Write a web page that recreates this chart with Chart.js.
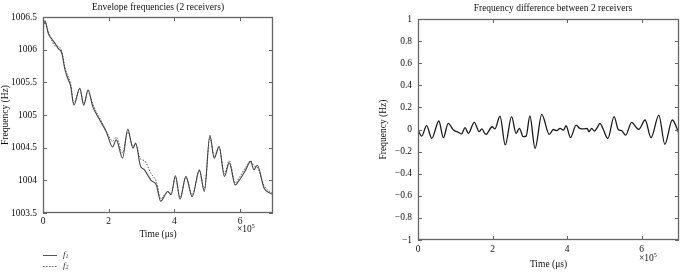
<!DOCTYPE html>
<html><head><meta charset="utf-8">
<script src="https://cdn.jsdelivr.net/npm/chart.js@4/dist/chart.umd.min.js"></script>
<style>
html,body{margin:0;padding:0;background:#fff;width:685px;height:275px;overflow:hidden;font-family:'Liberation Serif',serif;color:#111}
#c1{position:absolute;left:0;top:0}
#c2{position:absolute;left:340px;top:0}
.t{position:absolute;font-size:9.5px;line-height:11px;white-space:nowrap;color:#111}
.t sup{font-size:6px;vertical-align:4px;line-height:0}
.lg{position:absolute;left:43px;font-size:9px;line-height:11px;font-style:italic;color:#333}
.lg sub{font-size:6px;vertical-align:-1px;line-height:0}
</style></head><body>
<canvas id="c1" width="290" height="245"></canvas>
<canvas id="c2" width="345" height="275"></canvas>
<div class="t" style="left:158px;top:2px;transform:translateX(-50%)">Envelope frequencies (2 receivers)</div>
<div class="t" style="left:553px;top:3px;transform:translateX(-50%)">Frequency difference between 2 receivers</div>
<div class="t" style="left:237px;top:224px">×10<sup>5</sup></div>
<div class="t" style="left:639px;top:253px">×10<sup>5</sup></div>
<svg style="position:absolute;left:0;top:245px" width="80" height="30">
<line x1="43" y1="10.5" x2="57" y2="10.5" stroke="#555" stroke-width="1"/>
<line x1="43" y1="21.5" x2="57" y2="21.5" stroke="#555" stroke-width="1" stroke-dasharray="1.5,1.5"/>
</svg>
<div class="lg" style="left:63px;top:249px">f<sub>1</sub></div>
<div class="lg" style="left:63px;top:260px">f<sub>2</sub></div>
<script>
// Left chart: time in units of 1e5 μs
const timesL = [0.00,0.06,0.16,0.26,0.36,0.46,0.57,0.67,0.77,0.84,0.94,1.12,1.24,1.37,1.52,1.64,1.73,1.93,2.12,2.23,2.42,2.58,2.74,2.82,2.96,3.09,3.29,3.45,3.58,3.80,3.90,4.03,4.17,4.35,4.54,4.76,4.91,5.08,5.21,5.36,5.52,5.67,5.85,5.97,6.17,6.32,6.42,6.52,6.73,6.93,7.00];
const f1 = [1006.35,1006.44,1006.25,1006.17,1006.10,1006.02,1005.95,1005.69,1005.54,1005.45,1005.15,1005.41,1005.15,1005.38,1005.12,1005.00,1004.92,1004.74,1004.51,1004.62,1004.34,1004.78,1004.49,1004.57,1004.23,1004.16,1004.00,1003.93,1003.68,1003.83,1003.78,1004.07,1003.71,1004.06,1003.75,1004.16,1003.83,1004.69,1004.34,1004.52,1004.06,1004.27,1003.93,1004.00,1004.16,1004.29,1004.16,1004.23,1003.88,1003.80,1003.78];
const f2 = [1006.30,1006.42,1006.28,1006.15,1006.06,1006.05,1005.98,1005.72,1005.58,1005.48,1005.18,1005.40,1005.17,1005.36,1005.16,1005.03,1004.95,1004.75,1004.60,1004.66,1004.42,1004.74,1004.52,1004.55,1004.33,1004.30,1004.10,1003.98,1003.72,1003.82,1003.80,1004.05,1003.74,1004.04,1003.78,1004.14,1003.86,1004.66,1004.36,1004.50,1004.10,1004.30,1003.96,1004.04,1004.20,1004.30,1004.22,1004.20,1003.92,1003.82,1003.80];
// Right chart
const timesR = [0.00,0.10,0.23,0.37,0.56,0.68,0.81,0.95,1.08,1.17,1.26,1.35,1.51,1.64,1.71,1.82,1.99,2.06,2.20,2.34,2.51,2.63,2.72,2.82,2.90,3.00,3.14,3.32,3.52,3.63,3.72,3.81,3.90,3.97,4.09,4.24,4.34,4.45,4.54,4.58,4.66,4.73,4.82,4.88,4.97,5.09,5.26,5.37,5.46,5.57,5.73,5.86,5.92,6.09,6.25,6.46,6.62,6.82,7.00];
const diff = [-0.005,-0.06,0.035,-0.08,0.077,-0.074,0.056,-0.005,-0.025,-0.04,0.017,-0.035,0.065,-0.02,0.005,-0.045,0.025,0.005,0.12,-0.14,0.116,-0.035,0.01,-0.065,-0.06,0.122,-0.17,0.137,-0.045,0.0,-0.01,0.01,-0.005,0.034,-0.074,0.04,0.01,0.005,0.01,-0.02,0.01,-0.015,0.025,0.056,0.0,-0.08,0.116,0.0,-0.01,-0.05,0.065,0.016,0.0,0.086,-0.074,0.13,-0.134,0.086,-0.035];
// Ticks
const xTickVals = [0,2,4,6];
const xTickLabels = ['0','2','4','6'];
const yTickValsL = [1003.5,1004,1004.5,1005,1005.5,1006,1006.5];
const yTickLabelsL = ['1003.5','1004','1004.5','1005','1005.5','1006','1006.5'];
const yTickValsR = [-1,-0.8,-0.6,-0.4,-0.2,0,0.2,0.4,0.6,0.8,1];
const yTickLabelsR = ['\u22121','\u22120.8','\u22120.6','\u22120.4','\u22120.2','0','0.2','0.4','0.6','0.8','1'];

const FONT = {family:"'Liberation Serif', serif", size:9.5};
const framePlugin = {
  id:'frame',
  afterDatasetsDraw(chart){
    const {ctx, chartArea:a, scales:{x,y}} = chart;
    ctx.save();
    ctx.strokeStyle='#666'; ctx.lineWidth=1.3;
    ctx.strokeRect(Math.round(a.left)+0.5, Math.round(a.top)+0.5, Math.round(a.right-a.left)-1, Math.round(a.bottom-a.top)-1);
    const L=4;
    ctx.lineWidth=1;
    ctx.beginPath();
    x.ticks.forEach(t=>{const p=Math.round(x.getPixelForValue(t.value))+0.5; ctx.moveTo(p,a.bottom); ctx.lineTo(p,a.bottom-L); ctx.moveTo(p,a.top); ctx.lineTo(p,a.top+L);});
    y.ticks.forEach(t=>{const p=Math.round(y.getPixelForValue(t.value))+0.5; ctx.moveTo(a.left,p); ctx.lineTo(a.left+L,p); ctx.moveTo(a.right,p); ctx.lineTo(a.right-L,p);});
    ctx.stroke();
    ctx.restore();
  }
};
function pts(xs, ys){ return xs.map((v,i)=>({x:v,y:ys[i]})); }
function makeScales(o){
  return {
    x:{type:'linear',min:0,max:7,
      afterBuildTicks:s=>{s.ticks=xTickVals.map(v=>({value:v}));},
      afterFit:s=>{s.height=o.xh;},
      ticks:{font:FONT,color:'#111',padding:o.xpad,maxRotation:0,autoSkip:false,callback:(v,i)=>xTickLabels[xTickVals.indexOf(v)]},
      grid:{display:false,drawTicks:false},border:{display:false},
      title:{display:true,text:'Time (\u03bcs)',font:FONT,color:'#111',padding:{top:0,bottom:4.6}}},
    y:{type:'linear',min:o.ymin,max:o.ymax,
      afterBuildTicks:s=>{s.ticks=o.yv.map(v=>({value:v}));},
      afterFit:s=>{s.width=o.yw;},
      ticks:{font:FONT,color:'#111',padding:6,autoSkip:false,callback:(v)=>o.yl[o.yv.indexOf(v)]},
      grid:{display:false,drawTicks:false},border:{display:false},
      title:{display:true,text:'Frequency (Hz)',font:FONT,color:'#111',padding:{top:o.ytp,bottom:0}}}
  };
}
const common = {responsive:false,animation:false,devicePixelRatio:1,
  plugins:{legend:{display:false},tooltip:{enabled:false}},
  elements:{point:{radius:0}}};

new Chart(document.getElementById('c1'),{
  type:'line',
  data:{datasets:[
    {label:'f1',data:pts(timesL,f1),borderColor:'#444',borderWidth:1.1,cubicInterpolationMode:'monotone',fill:false},
    {label:'f2',data:pts(timesL,f2),borderColor:'#555',borderWidth:1,borderDash:[1.5,1.5],cubicInterpolationMode:'monotone',fill:false}
  ]},
  options:Object.assign({},common,{
    layout:{padding:{top:17,right:17,left:0,bottom:0}},
    scales:makeScales({xh:32,xpad:3,ymin:1003.5,ymax:1006.5,yv:yTickValsL,yl:yTickLabelsL,yw:43,ytp:0})
  }),
  plugins:[framePlugin]
});
new Chart(document.getElementById('c2'),{
  type:'line',
  data:{datasets:[
    {label:'diff',data:pts(timesR,diff),borderColor:'#1a1a1a',borderWidth:1.3,cubicInterpolationMode:'monotone',fill:false}
  ]},
  options:Object.assign({},common,{
    layout:{padding:{top:19,right:6,left:0,bottom:0}},
    scales:makeScales({xh:35,xpad:4,ymin:-1,ymax:1,yv:yTickValsR,yl:yTickLabelsR,yw:78,ytp:37.6})
  }),
  plugins:[framePlugin]
});
</script>
</body></html>
